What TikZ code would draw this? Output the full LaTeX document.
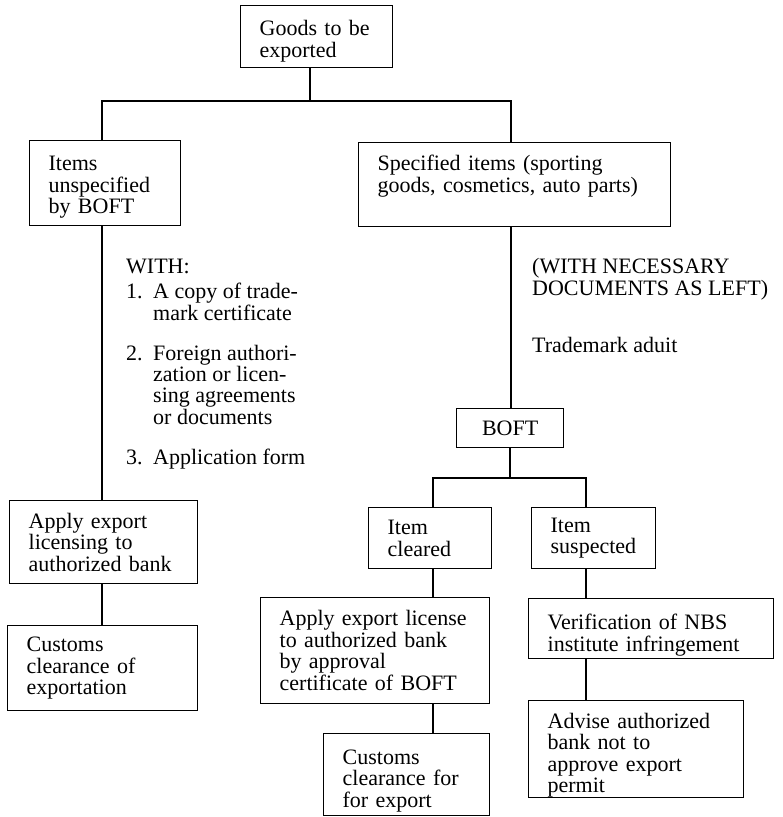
\documentclass[tikz,border=0pt]{standalone}
\usepackage{fontspec}
\setmainfont{Liberation Serif}
% raises the top of a box's first line so its text sits lower
\newcommand\lowerby[1]{\rule{0pt}{#1}}
\begin{document}
\begin{tikzpicture}[x=1pt,y=-1pt,
  box/.style={draw, line width=1.3pt, inner xsep=19pt, inner ysep=0pt,
    align=left, anchor=north west, font=\fontsize{22}{21.5}\selectfont},
  link/.style={line width=1.1pt},
  note/.style={inner sep=0pt, anchor=base west, font=\fontsize{22}{21}\selectfont}]
\useasboundingbox (0,0) rectangle (783,817);

% boxes
\node[box, minimum width=152pt, minimum height=62pt, text width=114pt] (goods) at (240,5) {\lowerby{24pt}Goods to be\\exported};
\node[box, minimum width=151pt, minimum height=85pt, text width=113pt] (items) at (29,140) {\lowerby{23pt}Items\\unspecified\\by BOFT};
\node[box, minimum width=312pt, minimum height=84pt, text width=274pt] (spec) at (358,142) {Specified items (sporting\\goods, cosmetics, auto parts)\\\mbox{}};
\node[box, minimum width=188pt, minimum height=83pt, text width=150pt] (apply1) at (9,500) {Apply export\\licensing to\\authorized bank};
\node[box, minimum width=190pt, minimum height=85pt, text width=152pt] (customs1) at (7,625) {Customs\\clearance of\\exportation};
\node[box, minimum width=107pt, minimum height=39pt, align=center] (boft) at (456,408) {BOFT};
\node[box, minimum width=123pt, minimum height=61pt, text width=85pt] (cleared) at (368,507) {Item\\cleared};
\node[box, minimum width=124pt, minimum height=61pt, text width=86pt] (susp) at (531,507) {Item\\suspected};
\node[box, minimum width=229pt, minimum height=106pt, text width=191pt] (applyl) at (260,597) {Apply export license\\to authorized bank\\by approval\\certificate of BOFT};
\node[box, minimum width=166pt, minimum height=82pt, text width=128pt] (customs2) at (323,733) {\lowerby{27pt}Customs\\clearance for\\for export};
\node[box, minimum width=245pt, minimum height=60pt, text width=207pt] (verif) at (528,598) {\lowerby{28pt}Verification of NBS\\institute infringement};
\node[box, minimum width=215pt, minimum height=97pt, text width=177pt] (advise) at (528,700) {\lowerby{27pt}Advise authorized\\bank not to\\approve export\\permit};

% free text
\node[note] (with) at (126,273) {\begin{tabular}[t]{@{}p{27pt}@{}l@{}}
\multicolumn{2}{@{}l@{}}{WITH:}\\[4pt]
1. & A copy of trade-\\
   & mark certificate\\[18pt]
2. & Foreign authori-\\
   & zation or licen-\\
   & sing agreements\\
   & or documents\\[18pt]
3. & Application form
\end{tabular}};
\node[note, font=\fontsize{22}{22}\selectfont] (docs) at (532,273) {\begin{tabular}[t]{@{}l@{}}(WITH NECESSARY\\DOCUMENTS AS LEFT)\end{tabular}};
\node[note] (audit) at (532,352) {Trademark aduit};

% connectors
\coordinate (j1) at (310,101);
\coordinate (j1l) at (102,101);
\coordinate (j1r) at (511,101);
\coordinate (j2) at (510,478);
\coordinate (j2l) at (433,478);
\coordinate (j2r) at (586,478);

\draw[link] (goods.south -| j1) -- (j1);
\draw[link] (j1l |- items.north) -- (j1l) -- (j1r) -- (j1r |- spec.north);
\draw[link] (items.south -| j1l) -- (apply1.north -| j1l);
\draw[link] (apply1.south -| j1l) -- (customs1.north -| j1l);
\draw[link] (spec.south -| j1r) -- (boft.north -| j1r);
\draw[link] (boft.south -| j2) -- (j2);
\draw[link] (j2l |- cleared.north) -- (j2l) -- (j2r) -- (j2r |- susp.north);
\draw[link] (cleared.south -| j2l) -- (applyl.north -| j2l);
\draw[link] (applyl.south -| j2l) -- (customs2.north -| j2l);
\draw[link] (susp.south -| j2r) -- (verif.north -| j2r);
\draw[link] (verif.south -| j2r) -- (advise.north -| j2r);
\end{tikzpicture}
\end{document}
